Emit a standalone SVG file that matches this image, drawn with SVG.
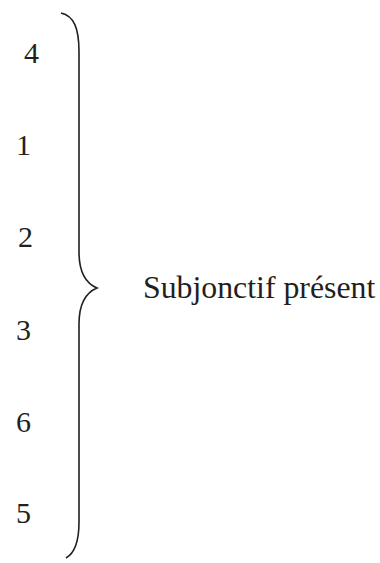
<svg xmlns="http://www.w3.org/2000/svg" width="380" height="563" viewBox="0 0 380 563">
<style>
.t{font-family:"Liberation Serif","Times New Roman",serif;font-size:30px;fill:#231f20}
.l{font-size:31.8px}
.b{fill:none;stroke:#231f20;stroke-width:1.6}
</style>
<rect width="380" height="563" fill="#fff"/>
<g id="connectors">
<path class="b" d="M61,13 C74,16 79,28 79,52 L79,252 C79,272 85,283 97,288 C85,293 79,304 79,324 L79,522 C79,542 75,553 66,558"/>
</g>
<g id="n4"><text class="t" x="24" y="63">4</text></g>
<g id="n1"><text class="t" x="16" y="155">1</text></g>
<g id="n2"><text class="t" x="18" y="247">2</text></g>
<g id="n3"><text class="t" x="16" y="340">3</text></g>
<g id="n6"><text class="t" x="16" y="432">6</text></g>
<g id="n5"><text class="t" x="16" y="523">5</text></g>
<g id="label"><text class="t l" x="143" y="298">Subjonctif présent</text></g>
</svg>
